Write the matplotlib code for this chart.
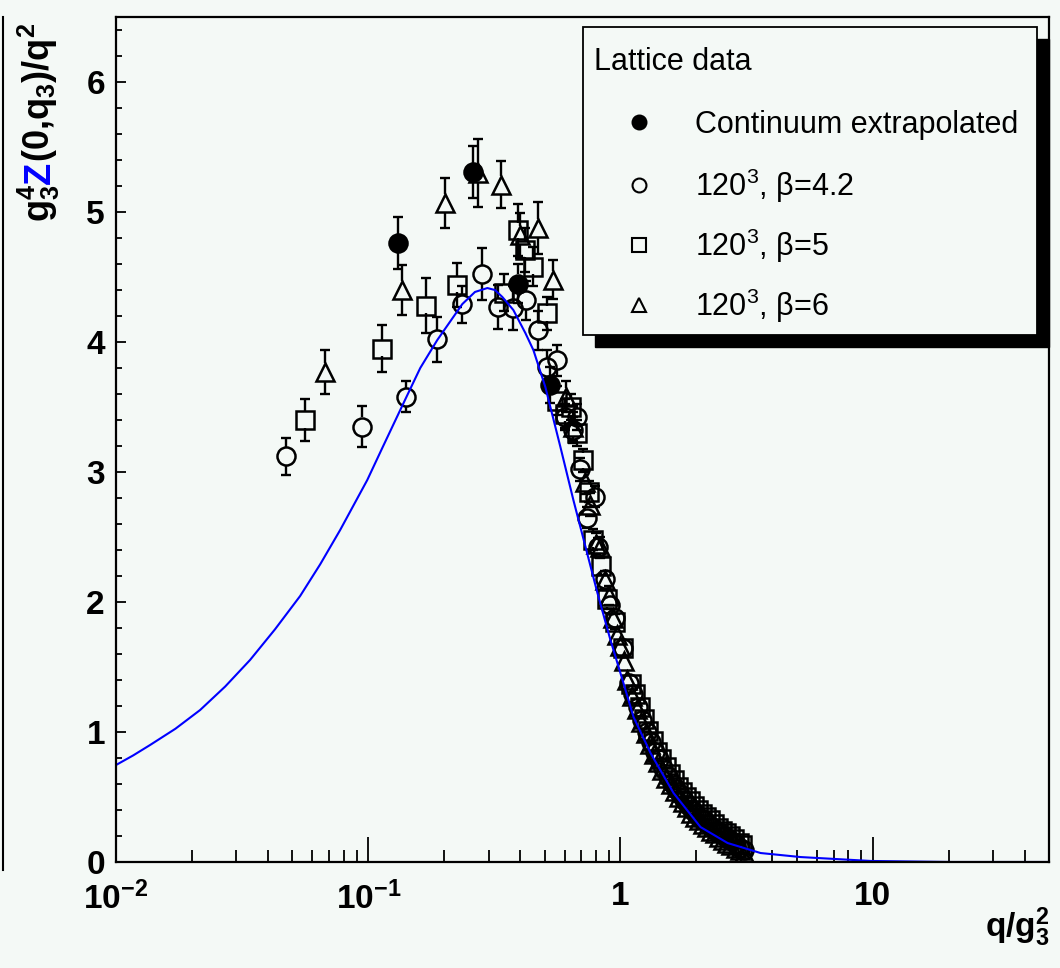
import numpy as np
import matplotlib
matplotlib.use("Agg")
import matplotlib.pyplot as plt
from matplotlib.patches import Rectangle
from matplotlib.lines import Line2D
from matplotlib.ticker import FixedLocator, MultipleLocator, NullFormatter

plt.rcParams["font.family"] = ["Liberation Sans", "DejaVu Sans"]
plt.rcParams["mathtext.default"] = "regular"

BG = "#f4f9f6"
W, H = 1060, 968

# continuum extrapolated (filled circles)
cont_q = [0.1315, 0.261, 0.394, 0.527]
cont_z = [4.76, 5.31, 4.45, 3.67]
cont_dz = [0.20, 0.20, 0.15, 0.14]

# 120^3, beta=4.2 (open circles)
b42_q = [0.0473, 0.0946, 0.141, 0.188, 0.236, 0.283, 0.328, 0.376, 0.424, 0.469,
         0.513, 0.562, 0.605, 0.650, 0.675, 0.694, 0.740, 0.789, 0.818, 0.871,
         0.910, 0.950, 1.02,
         1.08, 1.12, 1.17, 1.22, 1.27, 1.32, 1.37, 1.42, 1.48, 1.54,
         1.60, 1.66, 1.72, 1.78, 1.85, 1.92, 1.99, 2.06, 2.14, 2.22,
         2.30, 2.39, 2.48, 2.57, 2.67, 2.77, 2.88, 2.99, 3.08]
b42_z = [3.12, 3.35, 3.58, 4.02, 4.29, 4.52, 4.27, 4.26, 4.32, 4.09,
         3.81, 3.86, 3.42, 3.32, 3.42, 3.02, 2.65, 2.81, 2.42, 2.18,
         1.98, 1.88, 1.65,
         1.38, 1.29, 1.19, 1.09, 1.00, 0.92, 0.85, 0.79, 0.72, 0.66,
         0.61, 0.56, 0.52, 0.48, 0.44, 0.40, 0.37, 0.34, 0.32, 0.29,
         0.27, 0.24, 0.22, 0.20, 0.18, 0.16, 0.14, 0.11, 0.09]
b42_dz = [0.14, 0.16, 0.12, 0.17, 0.14, 0.20, 0.17, 0.17, 0.15, 0.15,
          0.13, 0.12, 0.10, 0.10, 0.10, 0.09, 0.08, 0.08, 0.07, 0.06,
          0.06, 0.05, 0.05,
          0.04, 0.04, 0.04, 0.04, 0.04, 0.03, 0.03, 0.03, 0.03, 0.03,
          0.03, 0.03, 0.03, 0.03, 0.02, 0.02, 0.02, 0.02, 0.02, 0.02,
          0.02, 0.02, 0.02, 0.02, 0.02, 0.02, 0.02, 0.02, 0.02]

# 120^3, beta=5 (open squares)
b5_q = [0.0562, 0.113, 0.170, 0.225, 0.345, 0.393, 0.420, 0.448, 0.513, 0.562,
        0.600, 0.634, 0.670, 0.713, 0.750, 0.781, 0.840, 0.888, 0.950, 1.02,
        1.10, 1.14, 1.19, 1.24, 1.29, 1.34, 1.40, 1.45, 1.51, 1.57,
        1.63, 1.69, 1.75, 1.82, 1.88, 1.95, 2.03, 2.10, 2.18, 2.26,
        2.35, 2.44, 2.53, 2.62, 2.72, 2.83, 2.94, 3.04]
b5_z = [3.40, 3.95, 4.28, 4.44, 4.38, 4.86, 4.71, 4.58, 4.22, 3.55,
        3.45, 3.50, 3.30, 3.09, 2.85, 2.48, 2.28, 2.02, 1.85, 1.65,
        1.37, 1.29, 1.19, 1.10, 1.01, 0.93, 0.85, 0.79, 0.73, 0.68,
        0.63, 0.58, 0.54, 0.50, 0.47, 0.43, 0.40, 0.37, 0.35, 0.32,
        0.29, 0.26, 0.24, 0.22, 0.20, 0.18, 0.15, 0.13]
b5_dz = [0.16, 0.18, 0.21, 0.17, 0.14, 0.20, 0.17, 0.15, 0.13, 0.11,
         0.11, 0.10, 0.10, 0.09, 0.08, 0.08, 0.07, 0.07, 0.06, 0.05,
         0.04, 0.04, 0.04, 0.04, 0.04, 0.03, 0.03, 0.03, 0.03, 0.03,
         0.03, 0.03, 0.03, 0.02, 0.02, 0.02, 0.02, 0.02, 0.02, 0.02,
         0.02, 0.02, 0.02, 0.02, 0.02, 0.02, 0.02, 0.02]

# 120^3, beta=6 (open triangles)
b6_q = [0.0675, 0.136, 0.202, 0.273, 0.337, 0.401, 0.473, 0.542, 0.606, 0.650,
        0.726, 0.760, 0.800, 0.830, 0.871, 0.900, 0.935, 0.970, 1.00, 1.03,
        1.06, 1.11, 1.16, 1.21, 1.26, 1.31, 1.36, 1.41, 1.46, 1.52,
        1.58, 1.64, 1.70, 1.77, 1.83, 1.90, 1.97, 2.05, 2.12, 2.20,
        2.28, 2.37, 2.46, 2.55, 2.65, 2.75, 2.86, 2.97, 3.10]
b6_z = [3.77, 4.40, 5.07, 5.30, 5.21, 4.82, 4.88, 4.48, 3.58, 3.35,
        2.92, 2.75, 2.45, 2.42, 2.17, 2.05, 1.88, 1.75, 1.66, 1.55,
        1.40, 1.28, 1.18, 1.08, 0.99, 0.91, 0.83, 0.77, 0.71, 0.65,
        0.60, 0.55, 0.50, 0.46, 0.42, 0.38, 0.35, 0.32, 0.29, 0.27,
        0.24, 0.22, 0.19, 0.17, 0.15, 0.13, 0.11, 0.09, 0.07]
b6_dz = [0.17, 0.19, 0.19, 0.26, 0.18, 0.17, 0.20, 0.15, 0.12, 0.11,
         0.09, 0.09, 0.08, 0.08, 0.07, 0.07, 0.06, 0.06, 0.05, 0.05,
         0.04, 0.04, 0.04, 0.04, 0.04, 0.03, 0.03, 0.03, 0.03, 0.03,
         0.03, 0.03, 0.03, 0.03, 0.02, 0.02, 0.02, 0.02, 0.02, 0.02,
         0.02, 0.02, 0.02, 0.02, 0.02, 0.02, 0.02, 0.02, 0.02]

# fit curve (blue)
fit_q = [0.01, 0.0117, 0.01365, 0.0172, 0.02155, 0.0271, 0.0340, 0.0427, 0.0537, 0.0645,
         0.0774, 0.0991, 0.1137, 0.1417, 0.1608, 0.1878, 0.2361, 0.265, 0.2966, 0.318,
         0.3403, 0.3761, 0.4197, 0.4516, 0.5037, 0.578, 0.6505, 0.6935, 0.8105, 0.9125,
         1.019, 1.127, 1.316, 1.623, 2.076, 2.659, 3.594, 5.18, 9.81, 20.4,
         50.0]
fit_z = [0.746, 0.820, 0.900, 1.025, 1.169, 1.350, 1.554, 1.790, 2.046, 2.290,
         2.554, 2.938, 3.185, 3.577, 3.800, 4.015, 4.292, 4.385, 4.415, 4.400,
         4.346, 4.246, 4.069, 3.938, 3.654, 3.192, 2.785, 2.577, 2.069, 1.708,
         1.400, 1.115, 0.838, 0.531, 0.269, 0.146, 0.069, 0.038, 0.008, 0.0,
         0.0]

x_ticks = [0.01, 0.1, 1, 10]
x_ticklabels = ["10$^{-2}$", "10$^{-1}$", "1", "10"]
y_ticks = [0, 1, 2, 3, 4, 5, 6]

legend_title = "Lattice data"
legend_labels = ["Continuum extrapolated", "120$^{3}$, β=4.2",
                 "120$^{3}$, β=5", "120$^{3}$, β=6"]

MS = 13  # marker size, points


def fx(px):
    return px / W


def fy(py):
    return 1 - py / H


def draw_points(ax, q, z, dz, marker, filled, r):
    q = np.asarray(q)
    z = np.asarray(z)
    dz = np.asarray(dz)
    big = dz > r
    # ROOT style bars: start at marker edge, with caps
    ax.vlines(q[big], z[big] + r, z[big] + dz[big], color="k", lw=1.7, zorder=2)
    ax.vlines(q[big], z[big] - dz[big], z[big] - r, color="k", lw=1.7, zorder=2)
    for s in (1, -1):
        ax.plot(q[big], z[big] + s * dz[big], ls="none", marker="_", ms=7.5,
                mew=1.7, color="k", zorder=2)
    ax.plot(q, z, ls="none", marker=marker, ms=MS,
            mfc="k" if filled else "none", mec="k", mew=1.8, zorder=3)


fig = plt.figure(figsize=(W / 100, H / 100), dpi=100, facecolor=BG)
L, R, T, B = 116, 1049, 17, 862
ax = fig.add_axes([fx(L), fy(B), (R - L) / W, (B - T) / H], facecolor=BG)
ax.set_xscale("log")
ax.set_xlim(0.01, 50)
ax.set_ylim(0, 6.5)

# marker radius in data units (bars start outside it)
r = (MS * 100 / 72 / 2) / ((B - T) / 6.5)

draw_points(ax, b42_q, b42_z, b42_dz, "o", False, r)
draw_points(ax, b5_q, b5_z, b5_dz, "s", False, r * 0.85)
draw_points(ax, b6_q, b6_z, b6_dz, "^", False, r)
draw_points(ax, cont_q, cont_z, cont_dz, "o", True, r)
ax.plot(fit_q, fit_z, color="#0000ff", lw=1.5, zorder=4)

for sp in ax.spines.values():
    sp.set_linewidth(1.6)
    sp.set_zorder(5)

ax.xaxis.set_major_locator(FixedLocator(x_ticks))
ax.set_xticklabels(x_ticklabels)
ax.xaxis.set_minor_locator(FixedLocator(
    [m * d for d in (0.01, 0.1, 1, 10) for m in range(2, 10) if m * d <= 50]))
ax.xaxis.set_minor_formatter(NullFormatter())
ax.set_yticks(y_ticks)
ax.yaxis.set_minor_locator(MultipleLocator(0.2))
ax.tick_params(which="both", direction="in", top=False, right=False, color="k")
ax.tick_params(axis="x", which="major", length=18, width=1.3, pad=14)
ax.tick_params(axis="x", which="minor", length=8.5, width=1.3)
ax.tick_params(axis="y", which="major", length=7, width=1.3, pad=8)
ax.tick_params(axis="y", which="minor", length=4, width=1.3)
for lab in ax.get_xticklabels() + ax.get_yticklabels():
    lab.set_fontsize(24)
    lab.set_fontweight("bold")

# x axis title
fig.text(fx(1050), fy(937), "q/g$_{3}^{2}$", ha="right", va="baseline",
         fontsize=24, fontweight="bold")

# y axis title in three pieces, Z in blue
renderer = fig.canvas.get_renderer()
ypos = fy(222)
for piece, col in (("g$_{3}^{4}$", "k"), ("Z", "#0000ff"),
                   ("(0,q$_{3}$)/q$^{2}$", "k")):
    t = fig.text(fx(50), ypos, piece, rotation=90, rotation_mode="anchor",
                 ha="left", va="baseline", fontsize=26, fontweight="bold",
                 color=col)
    bb = t.get_window_extent(renderer)
    ypos = bb.y1 / H

# legend box with ROOT-style shadow
box_l, box_t, box_r, box_b = 583, 27, 1037, 335
sh = 12
fig.patches.append(Rectangle((fx(box_l + sh), fy(box_b + sh)), (box_r - box_l) / W,
                             (box_b - box_t) / H, transform=fig.transFigure,
                             facecolor="k", edgecolor="k", zorder=6))
fig.patches.append(Rectangle((fx(box_l), fy(box_b)), (box_r - box_l) / W,
                             (box_b - box_t) / H, transform=fig.transFigure,
                             facecolor=BG, edgecolor="k", lw=1.3, zorder=7))
fig.text(fx(594), fy(70), legend_title, fontsize=22, ha="left", va="baseline",
         zorder=8)
leg_markers = [("o", True), ("o", False), ("s", False), ("^", False)]
row_y = [122, 185, 245, 305]
for (mk, filled), lab, yy in zip(leg_markers, legend_labels, row_y):
    fig.lines.append(Line2D([fx(639)], [fy(yy)], transform=fig.transFigure,
                            ls="none", marker=mk, ms=10,
                            mfc="k" if filled else "none", mec="k", mew=1.5,
                            zorder=8))
    fig.text(fx(695), fy(yy + 11), lab, fontsize=22, ha="left", va="baseline",
             zorder=8)

# edge of neighbouring panel, as in the source image
fig.lines.append(Line2D([fx(3), fx(3)], [fy(17), fy(870)],
                        transform=fig.transFigure, color="k", lw=1.5))

fig.savefig("out.png", dpi=100, facecolor=BG)
